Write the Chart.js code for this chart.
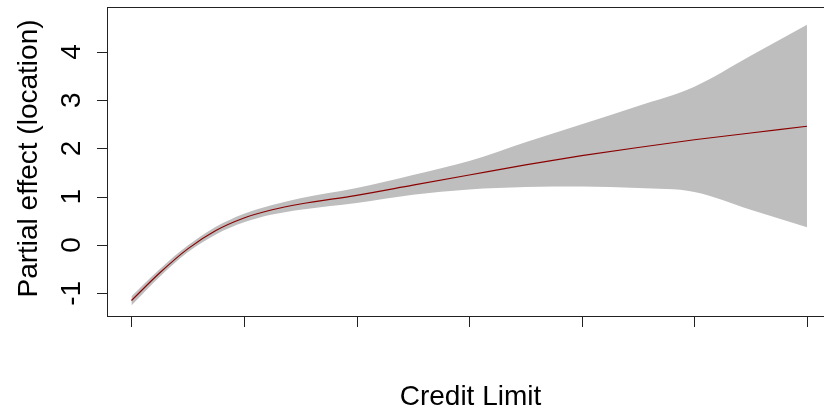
<!DOCTYPE html>
<html>
<head>
<meta charset="utf-8">
<script src="https://cdn.jsdelivr.net/npm/chart.js@4/dist/chart.umd.min.js"></script>
<style>
  html, body { margin: 0; padding: 0; background: #fff; overflow: hidden; }
  #wrap { width: 850px; height: 410px; }
</style>
</head>
<body>
<div id="wrap"><canvas id="effectChart" width="850" height="410"></canvas></div>
<script>
// Credit limit grid (tick units 0..6) and estimated partial effect
const creditX = [0, 0.25, 0.5, 0.75, 1, 1.25, 1.5, 2, 2.5, 3, 3.5, 4, 4.5, 5, 5.5, 6];
const fitValues = [-1.15, -0.58, -0.08, 0.30, 0.56, 0.73, 0.85, 1.03, 1.24, 1.45, 1.66, 1.85, 2.02, 2.18, 2.32, 2.46];
const upperBand = [-1.06, -0.50, -0.01, 0.38, 0.65, 0.83, 0.97, 1.18, 1.45, 1.74, 2.13, 2.50, 2.88, 3.28, 3.92, 4.56];
const lowerBand = [-1.25, -0.66, -0.15, 0.22, 0.47, 0.63, 0.73, 0.87, 1.04, 1.15, 1.20, 1.21, 1.18, 1.10, 0.73, 0.37];
const xTicks = [0, 1, 2, 3, 4, 5, 6];
const yTicks = [-1, 0, 1, 2, 3, 4];
const yTickLabels = ['-1', '0', '1', '2', '3', '4'];
const xTitle = 'Credit Limit';
const yTitle = 'Partial effect (location)';

function toPoints(values) {
    return creditX.map((x, i) => ({ x: x, y: values[i] }));
}

const FONT = '28px "Liberation Sans", Arial, sans-serif';

// R-style box, outward ticks and rotated labels
const baseAxes = {
    id: 'baseAxes',
    afterDraw(chart) {
        const ctx = chart.ctx;
        const area = chart.chartArea;
        const xs = chart.scales.x;
        const ys = chart.scales.y;
        ctx.save();
        ctx.strokeStyle = '#222';
        ctx.lineWidth = 1;
        ctx.strokeRect(area.left + 0.5, area.top + 0.5, area.right - area.left, area.bottom - area.top);

        // y ticks
        ctx.beginPath();
        yTicks.forEach(v => {
            const py = Math.round(ys.getPixelForValue(v)) + 0.5;
            ctx.moveTo(area.left - 10, py);
            ctx.lineTo(area.left + 0.5, py);
        });
        // x ticks
        xTicks.forEach(v => {
            const px = Math.round(xs.getPixelForValue(v)) + 0.5;
            ctx.moveTo(px, area.bottom + 0.5);
            ctx.lineTo(px, area.bottom + 11);
        });
        ctx.stroke();

        ctx.fillStyle = '#000';
        ctx.font = FONT;
        ctx.textAlign = 'center';
        ctx.textBaseline = 'alphabetic';

        // y tick labels, rotated like R's default
        yTicks.forEach((v, i) => {
            const py = ys.getPixelForValue(v);
            ctx.save();
            ctx.translate(80, py);
            ctx.rotate(-Math.PI / 2);
            ctx.fillText(yTickLabels[i], 0, 0);
            ctx.restore();
        });

        // y title
        ctx.save();
        ctx.translate(37, (area.top + area.bottom) / 2 - 3);
        ctx.rotate(-Math.PI / 2);
        ctx.fillText(yTitle, 0, 0);
        ctx.restore();

        // x title
        ctx.fillText(xTitle, (area.left + area.right) / 2, 405);
        ctx.restore();
    }
};

new Chart(document.getElementById('effectChart'), {
    type: 'line',
    data: {
        datasets: [
            {
                label: 'upper',
                data: toPoints(upperBand),
                order: 2,
                borderWidth: 0,
                borderColor: 'rgba(0,0,0,0)',
                backgroundColor: '#BEBEBE',
                pointRadius: 0,
                fill: '+1',
                cubicInterpolationMode: 'monotone'
            },
            {
                label: 'lower',
                data: toPoints(lowerBand),
                order: 2,
                borderWidth: 0,
                borderColor: 'rgba(0,0,0,0)',
                pointRadius: 0,
                fill: false,
                cubicInterpolationMode: 'monotone'
            },
            {
                label: 'fit',
                data: toPoints(fitValues),
                order: 0,
                borderWidth: 1.2,
                borderColor: '#8B0000',
                pointRadius: 0,
                fill: false,
                cubicInterpolationMode: 'monotone'
            }
        ]
    },
    options: {
        responsive: false,
        animation: false,
        devicePixelRatio: 1,
        layout: {
            padding: { left: 107, top: 7, right: 16, bottom: 94 }
        },
        plugins: {
            legend: { display: false },
            tooltip: { enabled: false }
        },
        scales: {
            x: {
                type: 'linear',
                display: false,
                min: -0.217,
                max: 6.24
            },
            y: {
                type: 'linear',
                display: false,
                min: -1.47,
                max: 4.93
            }
        }
    },
    plugins: [baseAxes]
});
</script>
</body>
</html>
